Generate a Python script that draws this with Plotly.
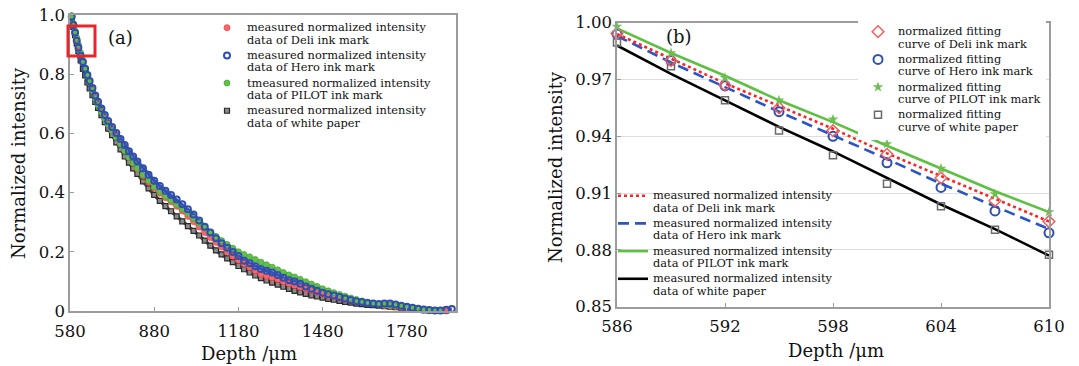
import plotly.graph_objects as go

# ---------------- data: panel (a) ----------------
depth_a = [586, 592, 598, 604, 610, 618, 626, 634, 642, 650, 660, 670, 680, 692, 704, 716, 730, 745,
           760, 775, 790, 805, 820, 840, 860, 880, 900, 920, 940, 960, 980, 1000, 1020, 1040, 1060,
           1080, 1100, 1120, 1140, 1160, 1180, 1200, 1220, 1240, 1260, 1280, 1300, 1320, 1340, 1360,
           1380, 1400, 1420, 1440, 1460, 1480, 1500, 1520, 1540, 1560, 1580, 1600, 1620, 1640, 1660,
           1680, 1700, 1720, 1740, 1760, 1780, 1800, 1820, 1840, 1860, 1880, 1900, 1920, 1940]

deli_a = [0.994, 0.968, 0.943, 0.919, 0.895, 0.867, 0.843, 0.819, 0.795, 0.774, 0.747, 0.721, 0.698,
          0.674, 0.652, 0.632, 0.611, 0.590, 0.566, 0.542, 0.519, 0.499, 0.480, 0.457, 0.435, 0.415,
          0.398, 0.383, 0.369, 0.354, 0.338, 0.320, 0.302, 0.284, 0.265, 0.248, 0.232, 0.216, 0.200,
          0.185, 0.171, 0.160, 0.148, 0.136, 0.124, 0.118, 0.112, 0.106, 0.099, 0.092, 0.086, 0.080,
          0.074, 0.068, 0.062, 0.057, 0.052, 0.048, 0.043, 0.039, 0.035, 0.032, 0.029, 0.026, 0.024,
          0.021, 0.019, 0.017, 0.015, 0.013, 0.010, 0.008, 0.006, 0.004, 0.001, -0.002, -0.003, 0.000,
          None]

hero_a = [0.994, 0.966, 0.940, 0.913, 0.889, 0.862, 0.841, 0.818, 0.797, 0.777, 0.753, 0.728, 0.707,
          0.684, 0.662, 0.642, 0.622, 0.601, 0.581, 0.561, 0.540, 0.522, 0.505, 0.482, 0.460, 0.440,
          0.422, 0.406, 0.392, 0.377, 0.361, 0.344, 0.326, 0.306, 0.285, 0.265, 0.246, 0.229, 0.214,
          0.199, 0.186, 0.170, 0.161, 0.151, 0.142, 0.136, 0.130, 0.122, 0.112, 0.104, 0.100, 0.092,
          0.083, 0.075, 0.068, 0.062, 0.057, 0.052, 0.047, 0.042, 0.037, 0.033, 0.030, 0.027, 0.025,
          0.024, 0.025, 0.025, 0.022, 0.018, 0.014, 0.011, 0.008, 0.005, 0.003, 0.002, 0.002, 0.004,
          0.007]

pilot_a = [0.998, 0.971, 0.946, 0.923, 0.900, 0.872, 0.846, 0.820, 0.795, 0.772, 0.745, 0.718, 0.695,
           0.672, 0.650, 0.630, 0.609, 0.587, 0.564, 0.541, 0.519, 0.500, 0.482, 0.460, 0.440, 0.420,
           0.403, 0.388, 0.374, 0.360, 0.345, 0.329, 0.313, 0.297, 0.281, 0.266, 0.252, 0.238, 0.225,
           0.212, 0.200, 0.191, 0.183, 0.174, 0.165, 0.156, 0.148, 0.139, 0.130, 0.122, 0.115, 0.107,
           0.099, 0.091, 0.083, 0.075, 0.068, 0.062, 0.056, 0.050, 0.044, 0.039, 0.034, 0.030, 0.026,
           0.023, 0.021, 0.019, 0.017, 0.015, 0.012, 0.010, 0.008, 0.006, 0.004, 0.002, 0.001, None,
           None]

paper_a = [0.989, 0.960, 0.932, 0.904, 0.878, 0.847, 0.818, 0.796, 0.772, 0.752, 0.729, 0.706, 0.686,
           0.662, 0.638, 0.616, 0.594, 0.570, 0.546, 0.522, 0.501, 0.482, 0.463, 0.438, 0.414, 0.392,
           0.372, 0.354, 0.337, 0.320, 0.303, 0.287, 0.271, 0.255, 0.238, 0.221, 0.205, 0.191, 0.178,
           0.165, 0.152, 0.141, 0.130, 0.120, 0.111, 0.103, 0.096, 0.089, 0.082, 0.075, 0.068, 0.063,
           0.058, 0.053, 0.049, 0.045, 0.041, 0.038, 0.034, 0.031, 0.028, 0.025, 0.023, 0.021, 0.020,
           0.018, 0.016, 0.015, 0.013, 0.011, 0.009, 0.007, 0.005, 0.003, 0.002, 0.001, 0.000, 0.001,
           None]

xticks_a = [580, 880, 1180, 1480, 1780]
yticks_a = [0, 0.2, 0.4, 0.6, 0.8, 1.0]
yticklabels_a = ["0", "0.2", "0.4", "0.6", "0.8", "1.0"]

# ---------------- data: panel (b) ----------------
depth_b = [586, 589, 592, 595, 598, 601, 604, 607, 610]
deli_fit_b = [0.9944, 0.980, 0.967, 0.955, 0.943, 0.9305, 0.918, 0.906, 0.895]
hero_fit_b = [0.994, 0.980, 0.9667, 0.953, 0.940, 0.926, 0.913, 0.9006, 0.889]
pilot_fit_b = [0.998, 0.984, 0.971, 0.959, 0.949, 0.936, 0.923, 0.9095, 0.900]
paper_fit_b = [0.9895, 0.977, 0.959, 0.943, 0.930, 0.915, 0.903, 0.8906, 0.8775]

deli_meas_b = [0.994, 0.981, 0.968, 0.956, 0.944, 0.931, 0.919, 0.907, 0.895]
hero_meas_b = [0.993, 0.979, 0.966, 0.953, 0.9405, 0.928, 0.915, 0.903, 0.891]
pilot_meas_b = [0.997, 0.984, 0.972, 0.959, 0.9475, 0.935, 0.923, 0.911, 0.900]
paper_meas_b = [0.988, 0.973, 0.959, 0.945, 0.932, 0.918, 0.904, 0.891, 0.877]

xticks_b = [586, 592, 598, 604, 610]
yticks_b = [0.85, 0.88, 0.91, 0.94, 0.97, 1.00]
yticklabels_b = ["0.85", "0.88", "0.91", "0.94", "0.97", "1.00"]

# ---------------- styling ----------------
W, H = 1079, 366
OFF = 8  # page body margin offset
FONT = "DejaVu Serif"
AXC = "#9c9c9c"
TXT = "#111111"
RED, BLUE, GREEN = "#f06a6a", "#2f4fb0", "#62c04a"


def px_x(p):
    return (p - OFF) / W


def px_y(p):
    return 1 - (p - OFF) / H


def lt(a, b):
    return '<span style="font-size:11.4px">' + a + "<br>" + b + "</span>"


fig = go.Figure()

# panel (a): thin connecting bands under the markers (not in legend)
for vals, col in [(paper_a, "#555555"), (deli_a, "#f46a6a"), (pilot_a, "#66c24e"), (hero_a, "#3552b4")]:
    fig.add_trace(go.Scatter(x=depth_a, y=vals, mode="lines", xaxis="x", yaxis="y",
                             showlegend=False, hoverinfo="skip", cliponaxis=False,
                             line=dict(color=col, width=3.5)))

# panel (a) markers (draw order: paper, deli, pilot, hero)
fig.add_trace(go.Scatter(x=depth_a, y=paper_a, mode="markers", xaxis="x", yaxis="y",
                         name=lt("measured normalized intensity", "data of white paper"),
                         legend="legend", legendrank=4, cliponaxis=False,
                         marker=dict(symbol="square", size=5, color="#8a8a8a",
                                     line=dict(color="#2a2a2a", width=1.2))))
fig.add_trace(go.Scatter(x=depth_a, y=deli_a, mode="markers", xaxis="x", yaxis="y",
                         name=lt("measured normalized intensity", "data of Deli ink mark"),
                         legend="legend", legendrank=1, cliponaxis=False,
                         marker=dict(symbol="circle", size=6, color=RED,
                                     line=dict(color="#ff4040", width=0.8))))
fig.add_trace(go.Scatter(x=depth_a, y=pilot_a, mode="markers", xaxis="x", yaxis="y",
                         name=lt("tmeasured normalized intensity", "data of PILOT ink mark"),
                         legend="legend", legendrank=3, cliponaxis=False,
                         marker=dict(symbol="circle", size=6, color=GREEN,
                                     line=dict(color="#4caa38", width=0.8))))
fig.add_trace(go.Scatter(x=depth_a, y=hero_a, mode="markers", xaxis="x", yaxis="y",
                         name=lt("measured normalized intensity", "data of Hero ink mark"),
                         legend="legend", legendrank=2, cliponaxis=False,
                         marker=dict(symbol="circle-open", size=6, color=BLUE,
                                     line=dict(color=BLUE, width=2))))

# panel (b) lines
line_specs = [
    (paper_meas_b, "#000000", "solid", "data of white paper", 4),
    (hero_meas_b, "#2a55c8", "11px,6px", "data of Hero ink mark", 2),
    (deli_meas_b, "#ff2222", "dot", "data of Deli ink mark", 1),
    (pilot_meas_b, "#5cc040", "solid", "data of PILOT ink mark", 3),
]
for vals, col, dash, lab, rank in line_specs:
    fig.add_trace(go.Scatter(x=depth_b, y=vals, mode="lines", xaxis="x2", yaxis="y2",
                             name=lt("measured normalized intensity", lab),
                             legend="legend3", legendrank=rank, cliponaxis=False,
                             line=dict(color=col, width=2.6, dash=dash)))

# panel (b) markers
mk_specs = [
    (paper_fit_b, dict(symbol="square-open", size=7, color="#6a6a6a", line=dict(width=1.5)),
     "curve of white paper", 4),
    (hero_fit_b, dict(symbol="circle-open", size=9, color="#3050b0", line=dict(width=2)),
     "curve of Hero ink mark", 2),
    (deli_fit_b, dict(symbol="diamond-open", size=9, color="#f06060", line=dict(width=1.5)),
     "curve of Deli ink mark", 1),
    (pilot_fit_b, dict(symbol="star", size=8, color="#6cc050", line=dict(width=0)),
     "curve of PILOT ink mark", 3),
]
for vals, mk, lab, rank in mk_specs:
    fig.add_trace(go.Scatter(x=depth_b, y=vals, mode="markers", xaxis="x2", yaxis="y2",
                             name=lt("normalized fitting", lab),
                             legend="legend2", legendrank=rank, cliponaxis=False,
                             marker=mk))

axis_common = dict(showline=True, linecolor=AXC, linewidth=1.6, mirror=True,
                   ticks="inside", ticklen=4, tickcolor=AXC, tickwidth=1, automargin=False,
                   ticklabeloverflow="allow",
                   tickfont=dict(family=FONT, size=16.5, color=TXT), zeroline=False)

leg_common = dict(borderwidth=0,
                  font=dict(family=FONT, size=9.5, color=TXT),
                  xanchor="left", yanchor="top", valign="top",
                  traceorder="normal", tracegroupgap=0)

fig.update_layout(
    width=W, height=H, autosize=False,
    margin=dict(l=0, r=0, t=0, b=0, pad=0, autoexpand=False),
    paper_bgcolor="white", plot_bgcolor="white",
    font=dict(family=FONT, color=TXT),
    xaxis=dict(domain=[px_x(70), px_x(456)], range=[580, 1955], tickvals=xticks_a,
               showgrid=False, anchor="y", ticklabelstandoff=4, **axis_common),
    yaxis=dict(domain=[px_y(311), px_y(15)], range=[0, 1.0], tickvals=yticks_a,
               ticktext=yticklabels_a, showgrid=False, anchor="x", **axis_common),
    xaxis2=dict(domain=[px_x(617), px_x(1049)], range=[586, 610], tickvals=xticks_b,
                showgrid=False, anchor="y2", ticklabelstandoff=4, **axis_common),
    yaxis2=dict(domain=[px_y(306.7), px_y(22.7)], range=[0.85, 1.0], tickvals=yticks_b,
                ticktext=yticklabels_b, showgrid=True, gridcolor="#dedede", gridwidth=1,
                anchor="x2", **axis_common),
    legend=dict(x=px_x(207), y=px_y(15), bgcolor="rgba(255,255,255,0)", **leg_common),
    legend2=dict(x=px_x(858), y=px_y(19), bgcolor="white", **leg_common),
    legend3=dict(x=px_x(613), y=px_y(183), bgcolor="rgba(255,255,255,0)", **leg_common),
    showlegend=True,
)

# axis titles and panel labels
ann = [
    dict(text="Normalized intensity", x=px_x(18), y=px_y(163), textangle=-90, size=18),
    dict(text="Depth /\u03bcm", x=px_x(249), y=px_y(353), textangle=0, size=18),
    dict(text="Normalized intensity", x=px_x(556), y=px_y(167), textangle=-90, size=18),
    dict(text="Depth /\u03bcm", x=px_x(836), y=px_y(350), textangle=0, size=18),
    dict(text="(a)", x=px_x(120), y=px_y(38), textangle=0, size=18),
    dict(text="(b)", x=px_x(679), y=px_y(37), textangle=0, size=18),
]
for a in ann:
    fig.add_annotation(text=a["text"], x=a["x"], y=a["y"], xref="paper", yref="paper",
                       xanchor="center", yanchor="middle", showarrow=False,
                       textangle=a["textangle"], font=dict(family=FONT, size=a["size"], color=TXT))

# white patch hiding the grid behind the lower legend of panel (b)
fig.add_shape(type="rect", xref="paper", yref="paper", layer="between",
              x0=px_x(619), x1=px_x(866), y0=px_y(292), y1=px_y(183),
              line=dict(width=0), fillcolor="white")

# red highlight box in panel (a)
fig.add_shape(type="rect", xref="paper", yref="paper",
              x0=px_x(68), x1=px_x(95), y0=px_y(56), y1=px_y(26),
              line=dict(color="#e8262a", width=3), fillcolor="rgba(0,0,0,0)")

fig.write_html("out.html")
